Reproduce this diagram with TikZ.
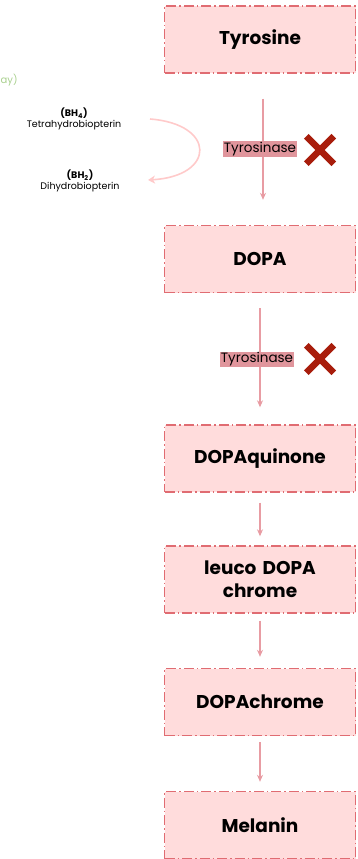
\documentclass[tikz,border=0pt]{standalone}
\usepackage{fontspec}
\setmainfont{Poppins}
\usepackage{xcolor}
\usetikzlibrary{arrows.meta,shapes.misc}

\definecolor{boxfill}{HTML}{FFDCDC}
\definecolor{boxline}{HTML}{E06C72}
\definecolor{arrowpink}{HTML}{E89CA3}
\definecolor{labelfill}{HTML}{E0959C}
\definecolor{crossred}{HTML}{A81D0C}
\definecolor{curvepink}{HTML}{FFCACA}
\definecolor{notegreen}{HTML}{A9D08E}

\tikzset{
  stepbox/.style={draw=boxline, fill=boxfill, line width=1.4pt,
    dash pattern=on 10pt off 3pt on 1.5pt off 3pt,
    minimum width=191pt, minimum height=67pt, inner sep=0pt,
    font=\fontsize{18.5}{23}\selectfont\bfseries, text width=180pt, align=center},
  flow/.style={draw=arrowpink, line width=1.1pt, -{Stealth[length=7pt,width=6pt]}},
  enzyme/.style={fill=labelfill, inner sep=1pt, font=\fontsize{13.5}{15}\selectfont},
  blocked/.style={cross out, draw=crossred, line width=6.5pt, minimum size=21pt, inner sep=0pt},
  cofactor/.style={font=\fontsize{9.5}{11}\selectfont, align=center, inner sep=0pt}
}

\begin{document}
\begin{tikzpicture}[x=1pt, y=-1pt]
    \useasboundingbox (0,0) rectangle (358,859);

    % Pathway boxes
    \node[stepbox] (tyr) at (260,39.5) {Tyrosine};
    \node[stepbox] (dopa) at (260,259) {DOPA};
    \node[stepbox] (quin) at (260,458.5) {DOPAquinone};
    \node[stepbox] (leuco) at (260,579.5) {leuco DOPA\\chrome};
    \node[stepbox] (chrome) at (260,702) {DOPAchrome};
    \node[stepbox] (mel) at (260,825) {Melanin};

    % Arrows
    \draw[flow, shorten <=25pt, shorten >=25pt] ([xshift=3pt]tyr.south) -- ([xshift=3pt]dopa.north);
    \draw[flow, shorten <=15pt, shorten >=17pt] (dopa.south) -- (quin.north);
    \draw[flow, shorten <=10pt, shorten >=9pt] (quin.south) -- (leuco.north);
    \draw[flow, shorten <=7pt, shorten >=11pt] (leuco.south) -- (chrome.north);
    \draw[flow, shorten <=6pt, shorten >=9pt] (chrome.south) -- (mel.north);

    % Enzyme labels and blocks
    \node[enzyme] (enz1) at (260,149) {Tyrosinase};
    \node[blocked] (x1) at (320,150) {};
    \node[enzyme] (enz2) at (257,359.5) {Tyrosinase};
    \node[blocked] (x2) at (320,359) {};

    % Cofactor
    \node[cofactor] (bh4) at (74,119) {\textbf{(BH\textsubscript{4})}\\Tetrahydrobiopterin};
    \node[cofactor] (bh2) at (80,181) {\textbf{(BH\textsubscript{2})}\\Dihydrobiopterin};
    \coordinate (c1) at (150,119);
    \coordinate (c2) at (148,180);
    \draw[draw=curvepink, line width=1.6pt, -{Stealth[length=7pt,width=8pt,inset=2pt]}]
        (c1) .. controls (216,124) and (216,176) .. (c2);

    % Cut-off note
    \node[anchor=west, text=notegreen, font=\fontsize{10}{11}\selectfont, inner sep=0pt] (note) at (0.5,80) {ay)};
\end{tikzpicture}
\end{document}
